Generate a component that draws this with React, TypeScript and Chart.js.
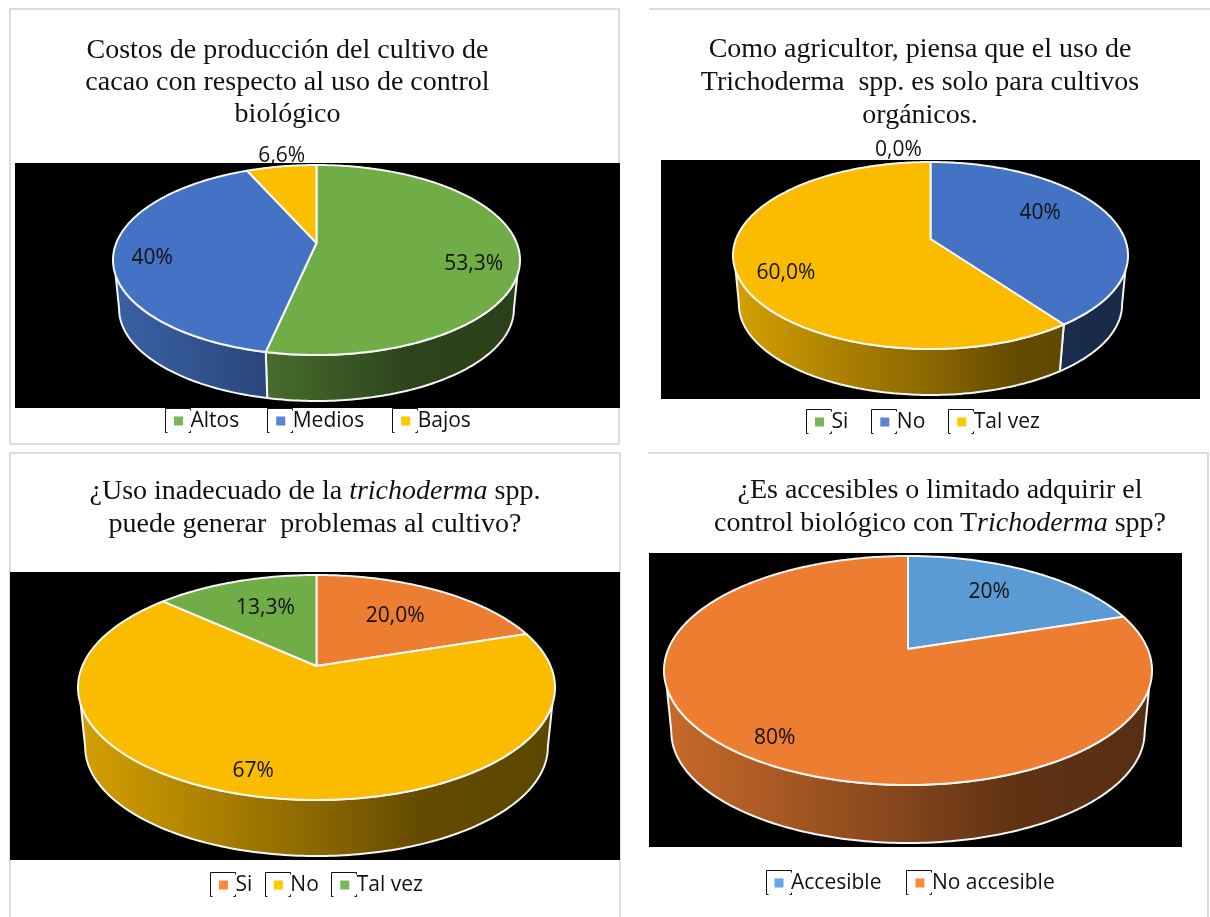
import React, { useEffect, useRef } from "react";
import { Chart, registerables } from "chart.js";

Chart.register(...registerables);

// ---------- data ----------
const costLabels = ["Altos", "Medios", "Bajos"];
const costValues = [53.3, 40, 6.6];
const costValueText = ["53,3%", "40%", "6,6%"];
const costColors = ["#70AD47", "#4472C4", "#FCBF00"];
const costLegendColors = ["#78B855", "#5A82D6", "#FFC800"];

const organicLabels = ["Si", "No", "Tal vez"];
const organicValues = [0, 40, 60];
const organicValueText = ["0,0%", "40%", "60,0%"];
const organicColors = ["#70AD47", "#4472C4", "#FBBC00"];
const organicLegendColors = ["#78B855", "#5A82D6", "#FFC800"];

const misuseLabels = ["Si", "No", "Tal vez"];
const misuseValues = [20, 67, 13.3];
const misuseValueText = ["20,0%", "67%", "13,3%"];
const misuseColors = ["#ED7D31", "#FBBC00", "#70AD47"];
const misuseLegendColors = ["#FB8A3C", "#FFC800", "#78B855"];

const accessLabels = ["Accesible", "No accesible"];
const accessValues = [20, 80];
const accessValueText = ["20%", "80%"];
const accessColors = ["#5B9BD5", "#ED7D31"];
const accessLegendColors = ["#5EA6E6", "#FB8A3C"];

type Run = [string, boolean?];
const costTitle: Run[][] = [
  [["Costos de producción del cultivo de"]],
  [["cacao con respecto al uso de control"]],
  [["biológico"]],
];
const organicTitle: Run[][] = [
  [["Como agricultor, piensa que el uso de"]],
  [["Trichoderma  spp. es solo para cultivos"]],
  [["orgánicos."]],
];
const misuseTitle: Run[][] = [
  [["¿Uso inadecuado de la "], ["trichoderma", true], [" spp."]],
  [["puede generar  problemas al cultivo?"]],
];
const accessTitle: Run[][] = [
  [["¿Es accesibles o limitado adquirir el"]],
  [["control biológico con T"], ["richoderma", true], [" spp?"]],
];

// ---------- layout / styling of each panel (page coordinates) ----------
const panels = [
  {
    frame: { x: 0, y: 0, w: 640, h: 448 },
    border: { left: 9, top: 8, width: 611, height: 437, sides: "ltrb" },
    black: { x: 15, y: 163, w: 605, h: 245 },
    pie: { cx: 316.5, cy: 243, T: 78, B: 112, W: 203.5, depth: 46 },
    labels: costLabels, values: costValues, text: costValueText, colors: costColors, legendColors: costLegendColors,
    labelShift: [[16, 13], [-23, 7], [-9, -32]],
    legend: { markerLeft: 174, centerY: 420, gap: 37 },
    title: costTitle, titleCx: 287.5, titleTop: 33, titleLine: 32,
  },
  {
    frame: { x: 640, y: 0, w: 570, h: 448 },
    border: { left: 649, top: 8, width: 561, height: 0, sides: "t" },
    black: { x: 661, y: 160, w: 539, h: 239 },
    pie: { cx: 930.5, cy: 239, T: 77, B: 110, W: 197.5, depth: 46 },
    labels: organicLabels, values: organicValues, text: organicValueText, colors: organicColors, legendColors: organicLegendColors,
    labelShift: [[-32, -34], [-15, -8], [-10, 13]],
    legend: { markerLeft: 815, centerY: 421, gap: 32 },
    title: organicTitle, titleCx: 920, titleTop: 31, titleLine: 33,
  },
  {
    frame: { x: 0, y: 448, w: 640, h: 469 },
    border: { left: 9, top: 452, width: 612, height: 470, sides: "ltr" },
    black: { x: 10, y: 572, w: 610, h: 288 },
    pie: { cx: 316.5, cy: 666, T: 91, B: 134, W: 238.5, depth: 56 },
    labels: misuseLabels, values: misuseValues, text: misuseValueText, colors: misuseColors, legendColors: misuseLegendColors,
    labelShift: [[-8, 4], [-24, 19], [8, 3]],
    legend: { markerLeft: 219, centerY: 884, gap: 21.5 },
    title: misuseTitle, titleCx: 315, titleTop: 473, titleLine: 33,
  },
  {
    frame: { x: 640, y: 448, w: 570, h: 469 },
    border: { left: 648, top: 452, width: 561, height: 470, sides: "tr" },
    black: { x: 649, y: 553, w: 533, h: 294 },
    pie: { cx: 908, cy: 649, T: 93, B: 136, W: 244, depth: 58 },
    labels: accessLabels, values: accessValues, text: accessValueText, colors: accessColors, legendColors: accessLegendColors,
    labelShift: [[-8, -1], [-23, 18]],
    legend: { markerLeft: 774.5, centerY: 882, gap: 34 },
    title: accessTitle, titleCx: 940, titleTop: 472, titleLine: 33,
  },
];

const LABEL_FONT = "'Open Sans', sans-serif";
const FONT_SIZE = 21;
const TITLE_SIZE = 28;
const MARKER_STROKE = 6;
const MARKER_CORE = 3;
const RIM_SCALE = 0.97;
const WALL_SIN = 0.33;

function shade(hex: string, f: number) {
  const n = parseInt(hex.slice(1), 16);
  const r = Math.round(((n >> 16) & 255) * f);
  const g = Math.round(((n >> 8) & 255) * f);
  const b = Math.round((n & 255) * f);
  return `rgb(${r},${g},${b})`;
}

function projector(p: (typeof panels)[number]) {
  const { cx, cy, T, B, W, depth } = p.pie;
  const ox = p.frame.x;
  const oy = p.frame.y;
  const b = (2 * T * B) / (T + B);
  const k = (B - T) / (B + T);
  const A = W * Math.sqrt(1 - k * k);
  const lowCy = cy + B + depth - RIM_SCALE * B;
  const at = (angle: number, r = 1, lowered = false) => {
    const u = r * Math.cos(angle);
    const v = r * Math.sin(angle);
    const d = 1 - k * v;
    if (lowered) {
      return { x: cx - ox + (RIM_SCALE * A * u) / d, y: lowCy - oy + (RIM_SCALE * b * v) / d };
    }
    return { x: cx - ox + (A * u) / d, y: cy - oy + (b * v) / d };
  };
  return { at, k };
}

function makePlugin(p: (typeof panels)[number]) {
  const ox = p.frame.x;
  const oy = p.frame.y;
  const proj = projector(p);
  const padding = p.legend.gap + MARKER_STROKE / 2;
  return {
    id: "pie3d",
    afterLayout(chart: any) {
      const lg = chart.legend;
      lg.left = p.legend.markerLeft + MARKER_STROKE / 2 - padding - ox;
      lg.top = p.legend.centerY - oy - padding - FONT_SIZE / 2 + 1;
    },
    beforeDraw(chart: any) {
      const ctx = chart.ctx;
      ctx.save();
      ctx.fillStyle = "#000";
      ctx.fillRect(p.black.x - ox, p.black.y - oy, p.black.w, p.black.h);
      ctx.restore();
    },
    beforeDatasetsDraw(chart: any) {
      const ctx = chart.ctx;
      const arcs = chart.getDatasetMeta(0).data as any[];
      const wallStart = Math.asin(WALL_SIN);
      const wallEnd = Math.PI - wallStart;
      const rimStart = Math.asin(proj.k);
      const rimEnd = Math.PI - rimStart;
      const left = p.pie.cx - p.pie.W - ox;
      const right = p.pie.cx + p.pie.W - ox;
      ctx.save();
      ctx.lineJoin = "round";
      ctx.strokeStyle = "#f6f6f6";
      ctx.lineWidth = 2;
      // side wall
      arcs.forEach((arc, i) => {
        const a0 = Math.max(arc.startAngle, wallStart);
        const a1 = Math.min(arc.endAngle, wallEnd);
        if (a1 - a0 <= 1e-4) return;
        // the lower rim runs on to its own widest points at the two ends of the wall
        const b0 = arc.startAngle <= wallStart ? Math.max(arc.startAngle, rimStart) : a0;
        const b1 = arc.endAngle >= wallEnd ? Math.min(arc.endAngle, rimEnd) : a1;
        const g = ctx.createLinearGradient(left, 0, right, 0);
        g.addColorStop(0, shade(p.colors[i], 0.85));
        g.addColorStop(0.5, shade(p.colors[i], 0.55));
        g.addColorStop(0.72, shade(p.colors[i], 0.4));
        g.addColorStop(1, shade(p.colors[i], 0.37));
        const steps = Math.ceil((a1 - a0) * 60);
        ctx.beginPath();
        for (let s = 0; s <= steps; s++) {
          const q = proj.at(a0 + ((a1 - a0) * s) / steps);
          s ? ctx.lineTo(q.x, q.y) : ctx.moveTo(q.x, q.y);
        }
        const lowSteps = Math.ceil((b1 - b0) * 60);
        for (let s = lowSteps; s >= 0; s--) {
          const q = proj.at(b0 + ((b1 - b0) * s) / lowSteps, 1, true);
          ctx.lineTo(q.x, q.y);
        }
        ctx.closePath();
        ctx.fillStyle = g;
        ctx.fill();
        ctx.stroke();
      });
      // top faces
      arcs.forEach((arc, i) => {
        if (arc.endAngle - arc.startAngle <= 1e-4) return;
        const steps = Math.ceil((arc.endAngle - arc.startAngle) * 60);
        const c = proj.at(0, 0);
        ctx.beginPath();
        ctx.moveTo(c.x, c.y);
        for (let s = 0; s <= steps; s++) {
          const q = proj.at(arc.startAngle + ((arc.endAngle - arc.startAngle) * s) / steps);
          ctx.lineTo(q.x, q.y);
        }
        ctx.closePath();
        ctx.fillStyle = p.colors[i];
        ctx.fill();
        ctx.stroke();
      });
      // value labels
      ctx.fillStyle = "#111";
      ctx.font = `${FONT_SIZE}px ${LABEL_FONT}`;
      ctx.textAlign = "center";
      ctx.textBaseline = "middle";
      arcs.forEach((arc, i) => {
        const q = proj.at((arc.startAngle + arc.endAngle) / 2, 0.7);
        ctx.fillText(p.text[i], q.x + p.labelShift[i][0], q.y + p.labelShift[i][1] + 1);
      });
      ctx.restore();
      return false;
    },
    afterDraw(chart: any) {
      const ctx = chart.ctx;
      const boxes = chart.legend.legendHitBoxes as any[];
      const cy = Math.round(p.legend.centerY - oy);
      ctx.save();
      ctx.strokeStyle = "#111";
      ctx.lineWidth = 1;
      boxes.forEach((h) => {
        const l = Math.round(h.left - 12) + 0.5;
        const r = Math.round(h.left + 13) + 0.5;
        const t = cy - 12 + 0.5;
        const b = cy + 12 + 0.5;
        ctx.beginPath();
        ctx.moveTo(l + 2, b);
        ctx.lineTo(l, b);
        ctx.lineTo(l, t);
        ctx.lineTo(r, t);
        ctx.lineTo(r, t + 2);
        ctx.moveTo(r, b - 2);
        ctx.lineTo(r, b);
        ctx.lineTo(r - 2, b);
        ctx.stroke();
      });
      ctx.restore();
    },
  };
}

function Panel({ p }: { p: (typeof panels)[number] }) {
  const ref = useRef<HTMLCanvasElement>(null);
  useEffect(() => {
    const padding = p.legend.gap + MARKER_STROKE / 2;
    const chart = new Chart(ref.current as HTMLCanvasElement, {
      type: "pie",
      data: {
        labels: p.labels,
        datasets: [{ data: p.values, backgroundColor: p.colors, borderColor: "#f6f6f6", borderWidth: 2 }],
      },
      options: {
        animation: false,
        responsive: false,
        events: [],
        plugins: {
          title: { display: false },
          tooltip: { enabled: false },
          legend: {
            display: true,
            position: "bottom",
            align: "start",
            labels: {
              color: "#111",
              boxWidth: MARKER_CORE,
              boxHeight: MARKER_CORE,
              padding,
              font: { family: LABEL_FONT, size: FONT_SIZE },
              generateLabels: () =>
                p.labels.map((text, i) => ({
                  text,
                  index: i,
                  fillStyle: p.legendColors[i],
                  strokeStyle: p.legendColors[i],
                  lineWidth: MARKER_STROKE,
                  fontColor: "#111",
                  hidden: false,
                })),
            },
          },
        },
      },
      plugins: [makePlugin(p)],
    } as any);
    return () => chart.destroy();
  }, [p]);
  const f = p.frame;
  const bd = p.border;
  const line = "2px solid #dcdcdc";
  return (
    <>
      <div
        style={{
          position: "absolute",
          boxSizing: "border-box",
          left: bd.left,
          top: bd.top,
          width: bd.width,
          height: bd.height || 2,
          borderLeft: bd.sides.includes("l") ? line : undefined,
          borderTop: bd.sides.includes("t") ? line : undefined,
          borderRight: bd.sides.includes("r") ? line : undefined,
          borderBottom: bd.sides.includes("b") ? line : undefined,
        }}
      />
      <canvas
        ref={ref}
        width={f.w}
        height={f.h}
        style={{ position: "absolute", left: f.x, top: f.y, width: f.w, height: f.h, display: "block" }}
      />
      {p.title.map((runs, i) => (
        <div
          key={i}
          style={{
            position: "absolute",
            left: p.titleCx - 300,
            width: 600,
            top: p.titleTop + i * p.titleLine,
            lineHeight: `${p.titleLine}px`,
            textAlign: "center",
            whiteSpace: "pre",
            fontFamily: "'Liberation Serif', serif",
            fontSize: TITLE_SIZE,
            color: "#111",
          }}
        >
          {runs.map((run, j) => (run[1] ? <i key={j}>{run[0]}</i> : <span key={j}>{run[0]}</span>))}
        </div>
      ))}
    </>
  );
}

export default function App() {
  return (
    <div style={{ position: "absolute", left: 0, top: 0, width: 1210, height: 917, overflow: "hidden", background: "#fff" }}>
      {panels.map((p, i) => (
        <Panel key={i} p={p} />
      ))}
    </div>
  );
}
